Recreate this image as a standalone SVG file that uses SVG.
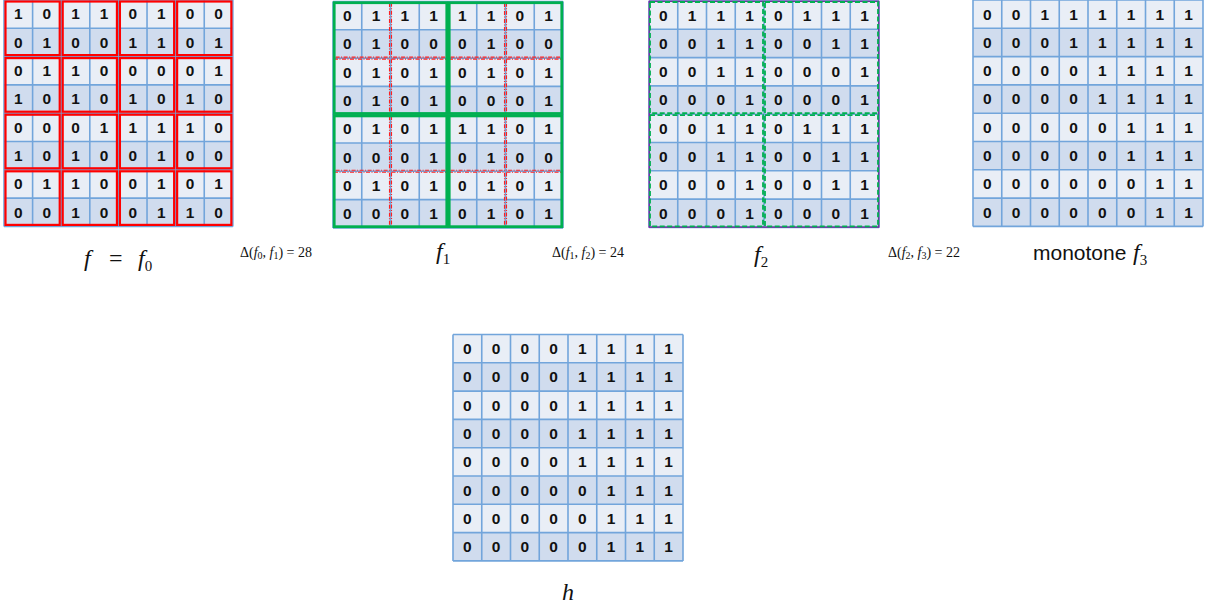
<svg xmlns="http://www.w3.org/2000/svg" xmlns:xlink="http://www.w3.org/1999/xlink" width="1205" height="608" viewBox="0 0 1205 608">
<style>
.cell text{font-family:"Liberation Sans",Arial,sans-serif;font-weight:bold;font-size:15.5px;fill:#111;text-anchor:middle}
.math{font-family:"Liberation Serif","Times New Roman",serif;font-style:italic;font-size:24px;fill:#111}
.up{font-style:normal}
.sub{font-style:normal;font-size:15px}
.dl{font-family:"Liberation Serif","Times New Roman",serif;font-size:14px;fill:#111}
.dl .it{font-style:italic}
.dl .sb{font-size:10px}
.lbl{font-family:"Liberation Sans",Arial,sans-serif;font-size:21px;fill:#111}
.red{fill:none;stroke:#FF0000;stroke-width:2.2}
.reddd{fill:none;stroke:#FF2020;stroke-width:1.1;stroke-dasharray:4 1.5 1 1.5}
.grn{fill:none;stroke:#00B050;stroke-width:2.8}
.grnd{fill:none;stroke:#00B050;stroke-width:1.8;stroke-dasharray:5 2.5}
.pur{fill:none;stroke:#7030A0;stroke-width:1.5}
</style>
<defs>
<g id="gridbase">
<rect x="0" y="0" width="230" height="28.3" fill="#E9EEF6"/>
<rect x="0" y="28.3" width="230" height="28.3" fill="#D0DCEE"/>
<rect x="0" y="56.6" width="230" height="28.3" fill="#E9EEF6"/>
<rect x="0" y="84.9" width="230" height="28.3" fill="#D0DCEE"/>
<rect x="0" y="113.2" width="230" height="28.3" fill="#E9EEF6"/>
<rect x="0" y="141.5" width="230" height="28.3" fill="#D0DCEE"/>
<rect x="0" y="169.8" width="230" height="28.3" fill="#E9EEF6"/>
<rect x="0" y="198.1" width="230" height="28.3" fill="#D0DCEE"/>
<path fill="none" stroke="#72A5DB" stroke-width="1.6" d="M0 0H230M0 28.3H230M0 56.6H230M0 84.9H230M0 113.2H230M0 141.5H230M0 169.8H230M0 198.1H230M0 226.4H230M0 0V226.4M28.75 0V226.4M57.5 0V226.4M86.25 0V226.4M115 0V226.4M143.75 0V226.4M172.5 0V226.4M201.25 0V226.4M230 0V226.4"/>
</g>
</defs>

<g id="grid-f0" class="cell" transform="translate(4,0) scale(0.995,1)">
<use xlink:href="#gridbase" href="#gridbase"/>
<text x="14.4" y="19.5">1</text><text x="43.1" y="19.5">0</text><text x="71.9" y="19.5">1</text><text x="100.6" y="19.5">1</text><text x="129.4" y="19.5">0</text><text x="158.1" y="19.5">1</text><text x="186.9" y="19.5">0</text><text x="215.6" y="19.5">0</text>
<text x="14.4" y="47.8">0</text><text x="43.1" y="47.8">1</text><text x="71.9" y="47.8">0</text><text x="100.6" y="47.8">0</text><text x="129.4" y="47.8">1</text><text x="158.1" y="47.8">1</text><text x="186.9" y="47.8">0</text><text x="215.6" y="47.8">1</text>
<text x="14.4" y="76.1">0</text><text x="43.1" y="76.1">1</text><text x="71.9" y="76.1">1</text><text x="100.6" y="76.1">0</text><text x="129.4" y="76.1">0</text><text x="158.1" y="76.1">0</text><text x="186.9" y="76.1">0</text><text x="215.6" y="76.1">1</text>
<text x="14.4" y="104.4">1</text><text x="43.1" y="104.4">0</text><text x="71.9" y="104.4">1</text><text x="100.6" y="104.4">0</text><text x="129.4" y="104.4">1</text><text x="158.1" y="104.4">0</text><text x="186.9" y="104.4">1</text><text x="215.6" y="104.4">0</text>
<text x="14.4" y="132.7">0</text><text x="43.1" y="132.7">0</text><text x="71.9" y="132.7">0</text><text x="100.6" y="132.7">1</text><text x="129.4" y="132.7">1</text><text x="158.1" y="132.7">1</text><text x="186.9" y="132.7">1</text><text x="215.6" y="132.7">0</text>
<text x="14.4" y="161">1</text><text x="43.1" y="161">0</text><text x="71.9" y="161">1</text><text x="100.6" y="161">0</text><text x="129.4" y="161">0</text><text x="158.1" y="161">1</text><text x="186.9" y="161">0</text><text x="215.6" y="161">0</text>
<text x="14.4" y="189.3">0</text><text x="43.1" y="189.3">1</text><text x="71.9" y="189.3">1</text><text x="100.6" y="189.3">0</text><text x="129.4" y="189.3">0</text><text x="158.1" y="189.3">1</text><text x="186.9" y="189.3">0</text><text x="215.6" y="189.3">1</text>
<text x="14.4" y="217.6">0</text><text x="43.1" y="217.6">0</text><text x="71.9" y="217.6">1</text><text x="100.6" y="217.6">0</text><text x="129.4" y="217.6">0</text><text x="158.1" y="217.6">1</text><text x="186.9" y="217.6">1</text><text x="215.6" y="217.6">0</text>
<rect class="red" x="1.5" y="1.5" width="54.5" height="53.6"/><rect class="red" x="59" y="1.5" width="54.5" height="53.6"/><rect class="red" x="116.5" y="1.5" width="54.5" height="53.6"/><rect class="red" x="174" y="1.5" width="54.5" height="53.6"/>
<rect class="red" x="1.5" y="58.1" width="54.5" height="53.6"/><rect class="red" x="59" y="58.1" width="54.5" height="53.6"/><rect class="red" x="116.5" y="58.1" width="54.5" height="53.6"/><rect class="red" x="174" y="58.1" width="54.5" height="53.6"/>
<rect class="red" x="1.5" y="114.7" width="54.5" height="53.6"/><rect class="red" x="59" y="114.7" width="54.5" height="53.6"/><rect class="red" x="116.5" y="114.7" width="54.5" height="53.6"/><rect class="red" x="174" y="114.7" width="54.5" height="53.6"/>
<rect class="red" x="1.5" y="171.3" width="54.5" height="53.6"/><rect class="red" x="59" y="171.3" width="54.5" height="53.6"/><rect class="red" x="116.5" y="171.3" width="54.5" height="53.6"/><rect class="red" x="174" y="171.3" width="54.5" height="53.6"/>
</g>

<g id="grid-f1" class="cell" transform="translate(333,1.5)">
<use xlink:href="#gridbase" href="#gridbase"/>
<text x="14.4" y="19.5">0</text><text x="43.1" y="19.5">1</text><text x="71.9" y="19.5">1</text><text x="100.6" y="19.5">1</text><text x="129.4" y="19.5">1</text><text x="158.1" y="19.5">1</text><text x="186.9" y="19.5">0</text><text x="215.6" y="19.5">1</text>
<text x="14.4" y="47.8">0</text><text x="43.1" y="47.8">1</text><text x="71.9" y="47.8">0</text><text x="100.6" y="47.8">0</text><text x="129.4" y="47.8">0</text><text x="158.1" y="47.8">1</text><text x="186.9" y="47.8">0</text><text x="215.6" y="47.8">0</text>
<text x="14.4" y="76.1">0</text><text x="43.1" y="76.1">1</text><text x="71.9" y="76.1">0</text><text x="100.6" y="76.1">1</text><text x="129.4" y="76.1">0</text><text x="158.1" y="76.1">1</text><text x="186.9" y="76.1">0</text><text x="215.6" y="76.1">1</text>
<text x="14.4" y="104.4">0</text><text x="43.1" y="104.4">1</text><text x="71.9" y="104.4">0</text><text x="100.6" y="104.4">1</text><text x="129.4" y="104.4">0</text><text x="158.1" y="104.4">0</text><text x="186.9" y="104.4">0</text><text x="215.6" y="104.4">1</text>
<text x="14.4" y="132.7">0</text><text x="43.1" y="132.7">1</text><text x="71.9" y="132.7">0</text><text x="100.6" y="132.7">1</text><text x="129.4" y="132.7">1</text><text x="158.1" y="132.7">1</text><text x="186.9" y="132.7">0</text><text x="215.6" y="132.7">1</text>
<text x="14.4" y="161">0</text><text x="43.1" y="161">0</text><text x="71.9" y="161">0</text><text x="100.6" y="161">1</text><text x="129.4" y="161">0</text><text x="158.1" y="161">1</text><text x="186.9" y="161">0</text><text x="215.6" y="161">0</text>
<text x="14.4" y="189.3">0</text><text x="43.1" y="189.3">1</text><text x="71.9" y="189.3">0</text><text x="100.6" y="189.3">1</text><text x="129.4" y="189.3">0</text><text x="158.1" y="189.3">1</text><text x="186.9" y="189.3">0</text><text x="215.6" y="189.3">1</text>
<text x="14.4" y="217.6">0</text><text x="43.1" y="217.6">0</text><text x="71.9" y="217.6">0</text><text x="100.6" y="217.6">1</text><text x="129.4" y="217.6">0</text><text x="158.1" y="217.6">1</text><text x="186.9" y="217.6">0</text><text x="215.6" y="217.6">1</text>
<rect class="reddd" x="1" y="1" width="55.5" height="54.6"/><rect class="reddd" x="58.5" y="1" width="55.5" height="54.6"/><rect class="reddd" x="116" y="1" width="55.5" height="54.6"/><rect class="reddd" x="173.5" y="1" width="55.5" height="54.6"/>
<rect class="reddd" x="1" y="57.6" width="55.5" height="54.6"/><rect class="reddd" x="58.5" y="57.6" width="55.5" height="54.6"/><rect class="reddd" x="116" y="57.6" width="55.5" height="54.6"/><rect class="reddd" x="173.5" y="57.6" width="55.5" height="54.6"/>
<rect class="reddd" x="1" y="114.2" width="55.5" height="54.6"/><rect class="reddd" x="58.5" y="114.2" width="55.5" height="54.6"/><rect class="reddd" x="116" y="114.2" width="55.5" height="54.6"/><rect class="reddd" x="173.5" y="114.2" width="55.5" height="54.6"/>
<rect class="reddd" x="1" y="170.8" width="55.5" height="54.6"/><rect class="reddd" x="58.5" y="170.8" width="55.5" height="54.6"/><rect class="reddd" x="116" y="170.8" width="55.5" height="54.6"/><rect class="reddd" x="173.5" y="170.8" width="55.5" height="54.6"/>
<rect class="grn" x="1.2" y="1.2" width="112.6" height="110.8"/><rect class="grn" x="116.2" y="1.2" width="112.6" height="110.8"/>
<rect class="grn" x="1.2" y="114.4" width="112.6" height="110.8"/><rect class="grn" x="116.2" y="114.4" width="112.6" height="110.8"/>
</g>

<g id="grid-f2" class="cell" transform="translate(649,1)">
<use xlink:href="#gridbase" href="#gridbase"/>
<text x="14.4" y="19.5">0</text><text x="43.1" y="19.5">1</text><text x="71.9" y="19.5">1</text><text x="100.6" y="19.5">1</text><text x="129.4" y="19.5">0</text><text x="158.1" y="19.5">1</text><text x="186.9" y="19.5">1</text><text x="215.6" y="19.5">1</text>
<text x="14.4" y="47.8">0</text><text x="43.1" y="47.8">0</text><text x="71.9" y="47.8">1</text><text x="100.6" y="47.8">1</text><text x="129.4" y="47.8">0</text><text x="158.1" y="47.8">0</text><text x="186.9" y="47.8">1</text><text x="215.6" y="47.8">1</text>
<text x="14.4" y="76.1">0</text><text x="43.1" y="76.1">0</text><text x="71.9" y="76.1">1</text><text x="100.6" y="76.1">1</text><text x="129.4" y="76.1">0</text><text x="158.1" y="76.1">0</text><text x="186.9" y="76.1">0</text><text x="215.6" y="76.1">1</text>
<text x="14.4" y="104.4">0</text><text x="43.1" y="104.4">0</text><text x="71.9" y="104.4">0</text><text x="100.6" y="104.4">1</text><text x="129.4" y="104.4">0</text><text x="158.1" y="104.4">0</text><text x="186.9" y="104.4">0</text><text x="215.6" y="104.4">1</text>
<text x="14.4" y="132.7">0</text><text x="43.1" y="132.7">0</text><text x="71.9" y="132.7">1</text><text x="100.6" y="132.7">1</text><text x="129.4" y="132.7">0</text><text x="158.1" y="132.7">1</text><text x="186.9" y="132.7">1</text><text x="215.6" y="132.7">1</text>
<text x="14.4" y="161">0</text><text x="43.1" y="161">0</text><text x="71.9" y="161">1</text><text x="100.6" y="161">1</text><text x="129.4" y="161">0</text><text x="158.1" y="161">0</text><text x="186.9" y="161">1</text><text x="215.6" y="161">1</text>
<text x="14.4" y="189.3">0</text><text x="43.1" y="189.3">0</text><text x="71.9" y="189.3">0</text><text x="100.6" y="189.3">1</text><text x="129.4" y="189.3">0</text><text x="158.1" y="189.3">0</text><text x="186.9" y="189.3">1</text><text x="215.6" y="189.3">1</text>
<text x="14.4" y="217.6">0</text><text x="43.1" y="217.6">0</text><text x="71.9" y="217.6">0</text><text x="100.6" y="217.6">1</text><text x="129.4" y="217.6">0</text><text x="158.1" y="217.6">0</text><text x="186.9" y="217.6">0</text><text x="215.6" y="217.6">1</text>
<rect class="pur" x="0.3" y="0.3" width="229.4" height="225.8"/>
<rect class="grnd" x="1" y="1" width="113" height="111.2"/><rect class="grnd" x="116" y="1" width="113" height="111.2"/>
<rect class="grnd" x="1" y="114.2" width="113" height="111.2"/><rect class="grnd" x="116" y="114.2" width="113" height="111.2"/>
</g>

<g id="grid-f3" class="cell" transform="translate(973,0)">
<use xlink:href="#gridbase" href="#gridbase"/>
<text x="14.4" y="19.5">0</text><text x="43.1" y="19.5">0</text><text x="71.9" y="19.5">1</text><text x="100.6" y="19.5">1</text><text x="129.4" y="19.5">1</text><text x="158.1" y="19.5">1</text><text x="186.9" y="19.5">1</text><text x="215.6" y="19.5">1</text>
<text x="14.4" y="47.8">0</text><text x="43.1" y="47.8">0</text><text x="71.9" y="47.8">0</text><text x="100.6" y="47.8">1</text><text x="129.4" y="47.8">1</text><text x="158.1" y="47.8">1</text><text x="186.9" y="47.8">1</text><text x="215.6" y="47.8">1</text>
<text x="14.4" y="76.1">0</text><text x="43.1" y="76.1">0</text><text x="71.9" y="76.1">0</text><text x="100.6" y="76.1">0</text><text x="129.4" y="76.1">1</text><text x="158.1" y="76.1">1</text><text x="186.9" y="76.1">1</text><text x="215.6" y="76.1">1</text>
<text x="14.4" y="104.4">0</text><text x="43.1" y="104.4">0</text><text x="71.9" y="104.4">0</text><text x="100.6" y="104.4">0</text><text x="129.4" y="104.4">1</text><text x="158.1" y="104.4">1</text><text x="186.9" y="104.4">1</text><text x="215.6" y="104.4">1</text>
<text x="14.4" y="132.7">0</text><text x="43.1" y="132.7">0</text><text x="71.9" y="132.7">0</text><text x="100.6" y="132.7">0</text><text x="129.4" y="132.7">0</text><text x="158.1" y="132.7">1</text><text x="186.9" y="132.7">1</text><text x="215.6" y="132.7">1</text>
<text x="14.4" y="161">0</text><text x="43.1" y="161">0</text><text x="71.9" y="161">0</text><text x="100.6" y="161">0</text><text x="129.4" y="161">0</text><text x="158.1" y="161">1</text><text x="186.9" y="161">1</text><text x="215.6" y="161">1</text>
<text x="14.4" y="189.3">0</text><text x="43.1" y="189.3">0</text><text x="71.9" y="189.3">0</text><text x="100.6" y="189.3">0</text><text x="129.4" y="189.3">0</text><text x="158.1" y="189.3">0</text><text x="186.9" y="189.3">1</text><text x="215.6" y="189.3">1</text>
<text x="14.4" y="217.6">0</text><text x="43.1" y="217.6">0</text><text x="71.9" y="217.6">0</text><text x="100.6" y="217.6">0</text><text x="129.4" y="217.6">0</text><text x="158.1" y="217.6">0</text><text x="186.9" y="217.6">1</text><text x="215.6" y="217.6">1</text>
</g>

<g id="grid-h" class="cell" transform="translate(453,334.5)">
<use xlink:href="#gridbase" href="#gridbase"/>
<text x="14.4" y="19.5">0</text><text x="43.1" y="19.5">0</text><text x="71.9" y="19.5">0</text><text x="100.6" y="19.5">0</text><text x="129.4" y="19.5">1</text><text x="158.1" y="19.5">1</text><text x="186.9" y="19.5">1</text><text x="215.6" y="19.5">1</text>
<text x="14.4" y="47.8">0</text><text x="43.1" y="47.8">0</text><text x="71.9" y="47.8">0</text><text x="100.6" y="47.8">0</text><text x="129.4" y="47.8">1</text><text x="158.1" y="47.8">1</text><text x="186.9" y="47.8">1</text><text x="215.6" y="47.8">1</text>
<text x="14.4" y="76.1">0</text><text x="43.1" y="76.1">0</text><text x="71.9" y="76.1">0</text><text x="100.6" y="76.1">0</text><text x="129.4" y="76.1">1</text><text x="158.1" y="76.1">1</text><text x="186.9" y="76.1">1</text><text x="215.6" y="76.1">1</text>
<text x="14.4" y="104.4">0</text><text x="43.1" y="104.4">0</text><text x="71.9" y="104.4">0</text><text x="100.6" y="104.4">0</text><text x="129.4" y="104.4">1</text><text x="158.1" y="104.4">1</text><text x="186.9" y="104.4">1</text><text x="215.6" y="104.4">1</text>
<text x="14.4" y="132.7">0</text><text x="43.1" y="132.7">0</text><text x="71.9" y="132.7">0</text><text x="100.6" y="132.7">0</text><text x="129.4" y="132.7">1</text><text x="158.1" y="132.7">1</text><text x="186.9" y="132.7">1</text><text x="215.6" y="132.7">1</text>
<text x="14.4" y="161">0</text><text x="43.1" y="161">0</text><text x="71.9" y="161">0</text><text x="100.6" y="161">0</text><text x="129.4" y="161">0</text><text x="158.1" y="161">1</text><text x="186.9" y="161">1</text><text x="215.6" y="161">1</text>
<text x="14.4" y="189.3">0</text><text x="43.1" y="189.3">0</text><text x="71.9" y="189.3">0</text><text x="100.6" y="189.3">0</text><text x="129.4" y="189.3">0</text><text x="158.1" y="189.3">1</text><text x="186.9" y="189.3">1</text><text x="215.6" y="189.3">1</text>
<text x="14.4" y="217.6">0</text><text x="43.1" y="217.6">0</text><text x="71.9" y="217.6">0</text><text x="100.6" y="217.6">0</text><text x="129.4" y="217.6">0</text><text x="158.1" y="217.6">1</text><text x="186.9" y="217.6">1</text><text x="215.6" y="217.6">1</text>
</g>

<g id="labels">
<text class="math" x="84" y="266">f<tspan class="up" x="109">=</tspan><tspan x="138">f</tspan><tspan class="sub" dy="5">0</tspan></text>
<text class="dl" x="240" y="257">Δ(<tspan class="it">f</tspan><tspan class="sb" dy="2">0</tspan><tspan dy="-2">, </tspan><tspan class="it">f</tspan><tspan class="sb" dy="2">1</tspan><tspan dy="-2">) = 28</tspan></text>
<text class="math" x="436" y="259">f<tspan class="sub" dy="5">1</tspan></text>
<text class="dl" x="552" y="257">Δ(<tspan class="it">f</tspan><tspan class="sb" dy="2">1</tspan><tspan dy="-2">, </tspan><tspan class="it">f</tspan><tspan class="sb" dy="2">2</tspan><tspan dy="-2">) = 24</tspan></text>
<text class="math" x="754" y="262">f<tspan class="sub" dy="5">2</tspan></text>
<text class="dl" x="888" y="257">Δ(<tspan class="it">f</tspan><tspan class="sb" dy="2">2</tspan><tspan dy="-2">, </tspan><tspan class="it">f</tspan><tspan class="sb" dy="2">3</tspan><tspan dy="-2">) = 22</tspan></text>
<text class="lbl" x="1033" y="260">monotone</text>
<text class="math" x="1133" y="260">f<tspan class="sub" dy="5">3</tspan></text>
<text class="math" x="562" y="600">h</text>
</g>
</svg>
